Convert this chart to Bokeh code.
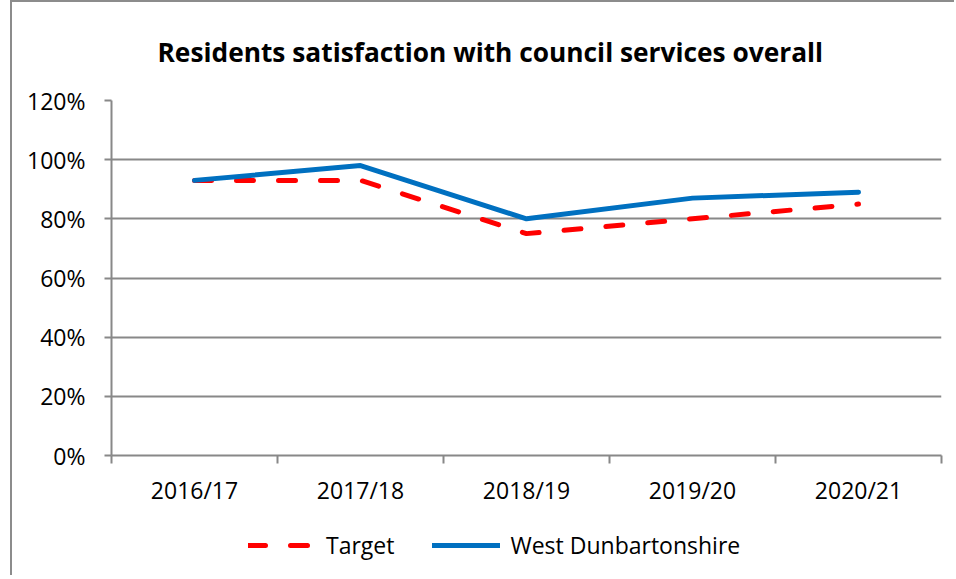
from bokeh.plotting import figure
from bokeh.layouts import column
from bokeh.models import Range1d, FixedTicker, Legend, LegendItem, ColumnDataSource
from bokeh.embed import file_html
from bokeh.resources import INLINE

categories = ["2016/17", "2017/18", "2018/19", "2019/20", "2020/21"]
target = [0.93, 0.93, 0.75, 0.80, 0.85]
west_dunbartonshire = [0.93, 0.98, 0.80, 0.87, 0.89]
y_ticks = [0, 0.2, 0.4, 0.6, 0.8, 1.0, 1.2]
y_labels = ["0%", "20%", "40%", "60%", "80%", "100%", "120%"]

FONT = "Open Sans"
GRID = "#888888"
RED = "#ff0000"
BLUE = "#0070c0"

xpos = [i + 0.5 for i in range(len(categories))]
src = ColumnDataSource(dict(x=xpos, t=target, w=west_dunbartonshire))

p = figure(frame_width=830, frame_height=355, output_backend="svg", toolbar_location=None,
           x_range=Range1d(0, len(categories)), y_range=Range1d(0, 1.2),
           min_border_left=99, min_border_right=13, min_border_top=98,
           min_border_bottom=70)
p.outline_line_color = None

p.title.text = "Residents satisfaction with council services overall"
p.title.align = "left"
p.title.offset = 46
p.title.vertical_align = "top"
p.title.standoff = 58
p.title.text_font = FONT
p.title.text_font_size = "26.3px"
p.title.text_font_style = "bold"
p.title.text_color = "black"

# x axis: labels at category centres, tick marks at category boundaries
p.xaxis.ticker = FixedTicker(ticks=xpos, minor_ticks=list(range(len(categories) + 1)))
p.xaxis.major_label_overrides = {x: c for x, c in zip(xpos, categories)}
p.xaxis.major_tick_line_color = None
p.xaxis.minor_tick_line_color = GRID
p.xaxis.minor_tick_line_width = 2
p.xaxis.minor_tick_in = 0
p.xaxis.minor_tick_out = 8
p.xaxis.axis_line_color = GRID
p.xaxis.axis_line_width = 2
p.xaxis.major_label_standoff = 10
p.xaxis.major_label_text_font = FONT
p.xaxis.major_label_text_font_size = "23px"
p.xaxis.major_label_text_color = "black"

p.yaxis.ticker = FixedTicker(ticks=y_ticks, minor_ticks=[])
p.yaxis.major_label_overrides = {t: l for t, l in zip(y_ticks, y_labels)}
p.yaxis.major_tick_line_color = GRID
p.yaxis.major_tick_line_width = 2
p.yaxis.major_tick_in = 0
p.yaxis.major_tick_out = 7
p.yaxis.axis_line_color = GRID
p.yaxis.axis_line_width = 2
p.yaxis.major_label_standoff = 19
p.yaxis.major_label_text_font = FONT
p.yaxis.major_label_text_font_size = "23px"
p.yaxis.major_label_text_color = "black"

p.xgrid.grid_line_color = None
p.ygrid.ticker = FixedTicker(ticks=y_ticks)
p.ygrid.grid_line_color = GRID
p.ygrid.grid_line_width = 2

p.line("x", "t", source=src, line_color=RED, line_width=5,
       line_dash="17 25", line_cap="round")
p.line("x", "w", source=src, line_color=BLUE, line_width=5, line_cap="round")

# legend strip below the chart (its own renderers sit outside the visible range)
leg = figure(width=942, height=50, output_backend="svg", toolbar_location=None,
             x_range=Range1d(0, len(categories)), y_range=Range1d(2, 3),
             x_axis_location=None, y_axis_location=None,
             min_border_left=0, min_border_right=0, min_border_top=0,
             min_border_bottom=0)
leg.outline_line_color = None
leg.xgrid.grid_line_color = None
leg.ygrid.grid_line_color = None
k_t = leg.line("x", "t", source=src, line_color=RED, line_width=5,
               line_dash="17 25", line_cap="round")
k_w = leg.line("x", "w", source=src, line_color=BLUE, line_width=5,
               line_cap="round")
legend = Legend(items=[LegendItem(label="Target", renderers=[k_t]),
                       LegendItem(label="West Dunbartonshire", renderers=[k_w])],
                orientation="horizontal", location=(137, 14),
                glyph_width=68, glyph_height=20, label_standoff=10, spacing=38,
                label_text_font=FONT, label_text_font_size="23px",
                label_text_color="black",
                border_line_color=None, background_fill_alpha=0,
                padding=0, margin=0)
leg.add_layout(legend, "center")

layout = column(p, leg, spacing=0)
layout.styles = {"margin-left": "10px",
                 "border-left": "2px solid #8c8c8c", "border-top": "2px solid #8c8c8c"}

open("out.html", "w").write(file_html(layout, INLINE))
